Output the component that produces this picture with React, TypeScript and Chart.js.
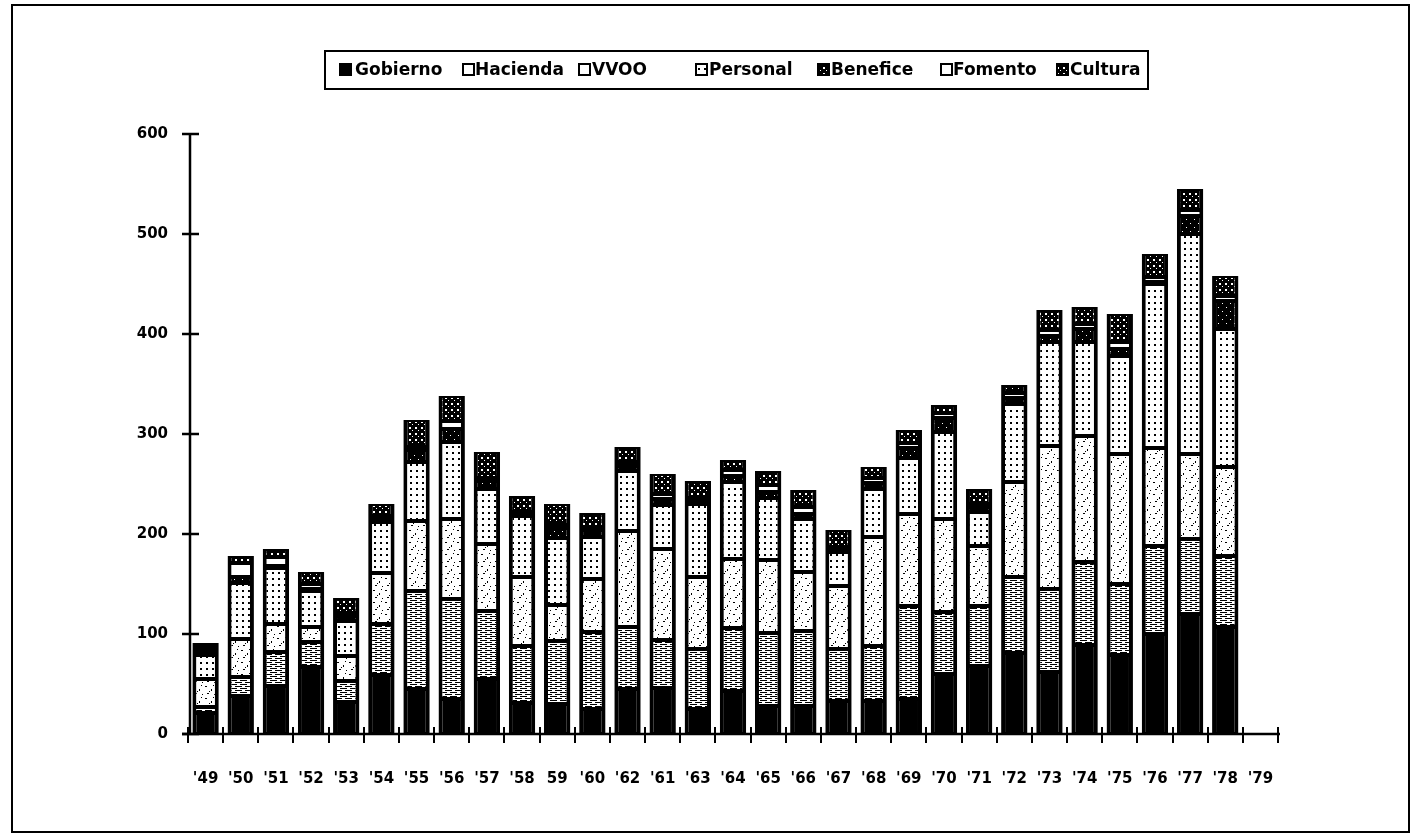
import React, { useEffect, useRef } from "react";
import { Chart, registerables } from "chart.js";

Chart.register(...registerables);

const years = ["'49", "'50", "'51", "'52", "'53", "'54", "'55", "'56", "'57", "'58", "59", "'60", "'62", "'61", "'63", "'64", "'65", "'66", "'67", "'68", "'69", "'70", "'71", "'72", "'73", "'74", "'75", "'76", "'77", "'78", "'79"];

const gobierno = [21, 38, 48, 67, 32, 59, 45, 35, 55, 31, 30, 25, 45, 46, 25, 43, 28, 28, 33, 33, 35, 60, 68, 81, 62, 89, 79, 100, 120, 107, null];
const hacienda = [6, 19, 34, 25, 21, 51, 98, 100, 68, 57, 63, 77, 62, 48, 60, 63, 73, 75, 52, 55, 93, 62, 60, 76, 83, 83, 71, 88, 75, 71, null];
const vvoo = [28, 38, 28, 15, 25, 51, 70, 80, 67, 69, 36, 53, 96, 91, 72, 69, 73, 59, 63, 109, 92, 93, 60, 95, 143, 126, 130, 98, 85, 89, null];
const personal = [24, 56, 56, 36, 35, 51, 59, 77, 55, 61, 67, 42, 60, 44, 73, 77, 62, 53, 34, 48, 56, 87, 34, 78, 104, 94, 98, 164, 220, 138, null];
const benefice = [4, 6, 2, 2, 5, 3, 12, 13, 8, 2, 10, 7, 5, 6, 3, 6, 6, 5, 2, 6, 10, 14, 5, 6, 6, 13, 7, 2, 18, 28, null];
const fomento = [4, 14, 9, 5, 3, 3, 3, 8, 3, 2, 3, 3, 4, 5, 3, 6, 7, 7, 3, 5, 5, 5, 3, 5, 6, 5, 7, 5, 6, 5, null];
const cultura = [4, 7, 8, 12, 15, 12, 27, 25, 26, 16, 21, 14, 15, 20, 17, 10, 14, 17, 17, 11, 13, 8, 15, 8, 20, 17, 28, 23, 21, 20, null];

const seriesNames = ["Gobierno", "Hacienda", "VVOO", "Personal", "Benefice", "Fomento", "Cultura"];
const seriesValues = [gobierno, hacienda, vvoo, personal, benefice, fomento, cultura];

const yTicks = [0, 100, 200, 300, 400, 500, 600];

// legend layout (pixels)
const legendIconX = [339, 462, 578, 695, 817, 940, 1056];
const legendTextX = [355, 475, 592, 709, 831, 953, 1070];

const FONT = "'DejaVu Sans', sans-serif";

type Dot = [number, number, number, number];

function makeTile(w: number, h: number, bg: string, fg: string, dots: Dot[]) {
  const c = document.createElement("canvas");
  c.width = w;
  c.height = h;
  const ctx = c.getContext("2d")!;
  ctx.fillStyle = bg;
  ctx.fillRect(0, 0, w, h);
  ctx.fillStyle = fg;
  dots.forEach(([x, y, dw, dh]) => ctx.fillRect(x, y, dw, dh));
  return c;
}

export default function App() {
  const ref = useRef<HTMLCanvasElement | null>(null);

  useEffect(() => {
    const canvas = ref.current!;
    const ctx = canvas.getContext("2d")!;
    const pat = (tile: HTMLCanvasElement) => ctx.createPattern(tile, "repeat")!;

    const hacTile = makeTile(10, 4, "#fff", "#000", [[0, 0, 7, 1], [5, 2, 5, 1], [0, 2, 2, 1]]);
    const vvTile = makeTile(12, 12, "#fff", "#000", [[1, 2, 2, 1], [7, 5, 1, 2], [3, 9, 2, 1], [10, 10, 1, 1], [9, 1, 1, 1], [5, 7, 1, 1]]);
    const persTile = makeTile(6, 6, "#fff", "#000", [[2, 2, 2, 2]]);
    const benTile = makeTile(8, 8, "#000", "#fff", [[2, 3, 1, 1], [6, 7, 1, 1]]);
    const cultTile = makeTile(6, 6, "#000", "#fff", [[1, 1, 2, 2], [4, 4, 1, 1]]);

    const fills = [
      "#000",
      pat(hacTile),
      pat(vvTile),
      pat(persTile),
      pat(benTile),
      "#fff",
      pat(cultTile),
    ];

    const legendFills = ["#000", "#fff", "#fff", pat(persTile), pat(cultTile), "#fff", pat(cultTile)];

    const overlay = {
      id: "overlay",
      afterDraw(chart: any) {
        const c = chart.ctx;
        const xs = chart.scales.x;
        const ys = chart.scales.y;
        c.save();
        c.strokeStyle = "#000";
        c.fillStyle = "#000";
        // frame
        c.lineWidth = 2;
        c.strokeRect(12, 5, 1397, 827);
        // legend box
        c.strokeRect(325, 51, 823, 38);
        c.font = `bold 17px ${FONT}`;
        c.textBaseline = "middle";
        c.textAlign = "left";
        seriesNames.forEach((name, i) => {
          const ix = legendIconX[i];
          c.fillStyle = legendFills[i];
          c.fillRect(ix, 63, 13, 13);
          c.lineWidth = 2;
          c.strokeRect(ix + 1, 64, 11, 11);
          c.fillStyle = "#000";
          c.fillText(name, legendTextX[i], 70.5);
        });
        // y axis
        const y0 = ys.getPixelForValue(0);
        const yTop = ys.getPixelForValue(600);
        const ax = chart.chartArea.left + 2;
        c.lineWidth = 2.5;
        c.beginPath();
        c.moveTo(ax, yTop);
        c.lineTo(ax, y0);
        yTicks.forEach((v) => {
          const y = ys.getPixelForValue(v);
          c.moveTo(ax - 8, y);
          c.lineTo(ax + 9, y);
        });
        c.stroke();
        // x axis
        c.beginPath();
        c.moveTo(ax - 8, y0);
        c.lineTo(chart.chartArea.right + 2, y0);
        c.stroke();
        const slot = xs.getPixelForValue(1) - xs.getPixelForValue(0);
        c.lineWidth = 2;
        c.beginPath();
        for (let i = 0; i <= years.length; i++) {
          const x = Math.round(xs.getPixelForValue(Math.min(i, years.length - 1)) + (i === years.length ? slot / 2 : -slot / 2));
          c.moveTo(x, y0 - 7);
          c.lineTo(x, y0 + 9);
        }
        c.stroke();
        c.restore();
      },
    };

    const chart = new Chart(canvas, {
      type: "bar",
      data: {
        labels: years,
        datasets: seriesNames.map((name, i) => ({
          label: name,
          data: seriesValues[i],
          backgroundColor: fills[i] as any,
          borderColor: "#000",
          borderWidth: { top: 2, bottom: 2, left: 4, right: 4 },
          borderSkipped: false,
          barPercentage: 0.75,
          categoryPercentage: 1,
          inflateAmount: 0,
        })),
      },
      options: {
        responsive: false,
        animation: false,
        events: [],
        layout: { padding: { left: 0, top: 134, right: 135, bottom: 0 } },
        plugins: {
          legend: { display: false },
          tooltip: { enabled: false },
          title: { display: false },
        },
        scales: {
          x: {
            stacked: true,
            offset: true,
            grid: { display: false, drawTicks: false },
            border: { display: false },
            ticks: {
              color: "#000",
              font: { family: FONT, weight: "bold", size: 15 },
              padding: 36,
              autoSkip: false,
              maxRotation: 0,
              minRotation: 0,
            },
            afterFit: (s: any) => {
              s.height = 104;
            },
          },
          y: {
            stacked: true,
            min: 0,
            max: 600,
            grid: { display: false, drawTicks: false },
            border: { display: false },
            ticks: {
              stepSize: 100,
              color: "#000",
              font: { family: FONT, weight: "bold", size: 15 },
              padding: 20,
            },
            afterFit: (s: any) => {
              s.width = 188;
            },
          },
        },
      },
      plugins: [overlay],
    });

    return () => chart.destroy();
  }, []);

  return (
    <div style={{ position: "fixed", left: 0, top: 0, width: 1413, height: 838, background: "#fff" }}>
      <canvas ref={ref} width={1413} height={838} style={{ display: "block" }} />
    </div>
  );
}
